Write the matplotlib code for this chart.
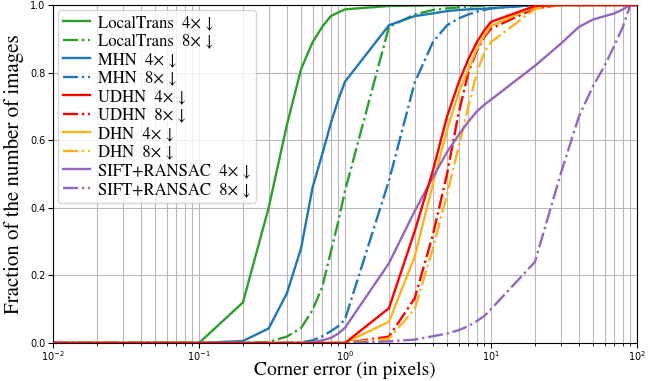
import numpy as np
import matplotlib
matplotlib.use("Agg")
import matplotlib.pyplot as plt

# corner error thresholds (pixels)
thresholds = [0.01, 0.1, 0.2, 0.3, 0.4, 0.5, 0.6, 0.7, 0.8, 0.9,
              1, 2, 3, 4, 5, 6, 7, 8, 9,
              10, 20, 30, 40, 50, 60, 70, 80, 90, 100]

localtrans_4x = [0, 0, 0.12, 0.40, 0.645, 0.81, 0.89, 0.936, 0.967, 0.978,
                 0.987, 0.997, 0.998, 0.999, 0.999, 1, 1, 1, 1,
                 1, 1, 1, 1, 1, 1, 1, 1, 1, 1]
localtrans_8x = [0, 0, 0, 0.003, 0.019, 0.044, 0.098, 0.167, 0.27, 0.36,
                 0.45, 0.935, 0.972, 0.985, 0.99, 0.993, 0.995, 0.997, 0.998,
                 1, 1, 1, 1, 1, 1, 1, 1, 1, 1]
mhn_4x = [0, 0, 0.006, 0.043, 0.147, 0.28, 0.46, 0.56, 0.65, 0.72,
          0.773, 0.94, 0.967, 0.975, 0.982, 0.985, 0.987, 0.988, 0.989,
          0.99, 1, 1, 1, 1, 1, 1, 1, 1, 1]
mhn_8x = [0, 0, 0, 0, 0, 0.002, 0.008, 0.02, 0.035, 0.05,
          0.07, 0.48, 0.77, 0.89, 0.94, 0.96, 0.972, 0.98, 0.985,
          0.99, 1, 1, 1, 1, 1, 1, 1, 1, 1]
udhn_4x = [0, 0, 0, 0, 0, 0, 0, 0, 0, 0,
           0, 0.103, 0.33, 0.51, 0.67, 0.77, 0.84, 0.89, 0.925,
           0.95, 0.997, 1, 1, 1, 1, 1, 1, 1, 1]
udhn_8x = [0, 0, 0, 0, 0, 0, 0, 0, 0, 0,
           0, 0.019, 0.132, 0.32, 0.50, 0.68, 0.80, 0.865, 0.905,
           0.93, 0.99, 1, 1, 1, 1, 1, 1, 1, 1]
dhn_4x = [0, 0, 0, 0, 0, 0, 0, 0, 0, 0,
          0, 0.063, 0.255, 0.47, 0.63, 0.74, 0.81, 0.87, 0.91,
          0.938, 0.995, 1, 1, 1, 1, 1, 1, 1, 1]
dhn_8x = [0, 0, 0, 0, 0, 0, 0, 0, 0, 0,
          0, 0.013, 0.10, 0.28, 0.44, 0.58, 0.70, 0.80, 0.86,
          0.89, 0.988, 1, 1, 1, 1, 1, 1, 1, 1]
sift_4x = [0, 0, 0, 0, 0, 0, 0.002, 0.008, 0.015, 0.028,
           0.045, 0.236, 0.39, 0.49, 0.565, 0.615, 0.655, 0.685, 0.705,
           0.72, 0.82, 0.885, 0.935, 0.957, 0.967, 0.975, 0.987, 1, 1]
sift_8x = [0, 0, 0, 0, 0, 0, 0, 0, 0, 0,
           0, 0.005, 0.01, 0.02, 0.028, 0.038, 0.05, 0.065, 0.08,
           0.10, 0.24, 0.50, 0.67, 0.76, 0.82, 0.88, 0.935, 1, 1]

series = [
    ("LocalTrans  4× ↓", localtrans_4x, "#2ca02c", "-"),
    ("LocalTrans  8× ↓", localtrans_8x, "#2ca02c", "-."),
    ("MHN  4× ↓", mhn_4x, "#1f77b4", "-"),
    ("MHN  8× ↓", mhn_8x, "#1f77b4", "-."),
    ("UDHN  4× ↓", udhn_4x, "#ff0000", "-"),
    ("UDHN  8× ↓", udhn_8x, "#ff0000", "-."),
    ("DHN  4× ↓", dhn_4x, "#ffb31a", "-"),
    ("DHN  8× ↓", dhn_8x, "#ffb31a", "-."),
    ("SIFT+RANSAC  4× ↓", sift_4x, "#9467bd", "-"),
    ("SIFT+RANSAC  8× ↓", sift_8x, "#9467bd", "-."),
]

fig = plt.figure(figsize=(6.5, 3.81), dpi=100)
ax = fig.add_axes([0.0815, 0.0997, 0.8985, 0.8873])

for label, vals, color, ls in series:
    z = 3 if label.startswith("UDHN  4") else 2
    ax.plot(thresholds, vals, color=color, linestyle=ls, linewidth=1.7,
            label=label, zorder=z)

ax.set_xscale("log")
ax.set_xlim(0.01, 100)
ax.set_ylim(0, 1)
ax.grid(True, which="both", color="#b8b8b8", linewidth=0.8)
ax.set_axisbelow(True)
ax.tick_params(labelsize=7, pad=2)
ax.tick_params(axis="x", pad=1)

ax.set_xlabel("Corner error (in pixels)", family="STIXGeneral", fontsize=14, labelpad=-1)
ax.set_ylabel("Fraction of the number of images", family="STIXGeneral", fontsize=15, labelpad=4)

ax.legend(loc="upper left", prop={"family": "STIXGeneral", "size": 12},
          handlelength=1.6, labelspacing=0.15, borderpad=0.3,
          handletextpad=0.5, borderaxespad=0.3)

fig.savefig("out.png", dpi=100)
